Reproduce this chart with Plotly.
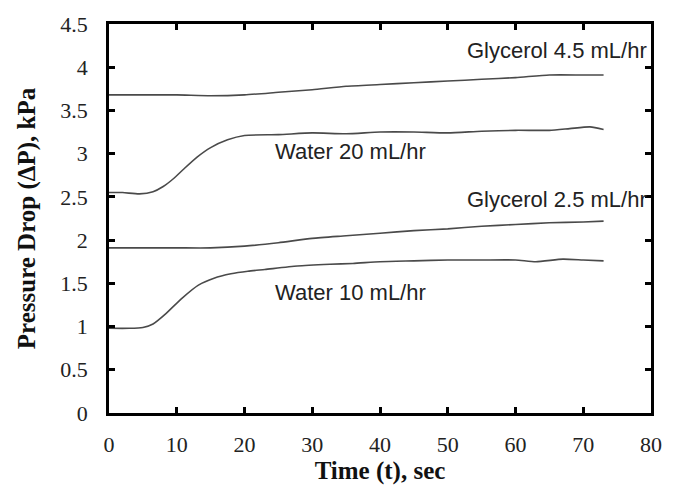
import plotly.graph_objects as go

# ---- data ----
t_gly45 = [0, 5, 10, 15, 20, 25, 30, 35, 40, 45, 50, 55, 60, 65, 70, 73]
p_gly45 = [3.68, 3.68, 3.68, 3.67, 3.68, 3.71, 3.74, 3.78, 3.80, 3.82, 3.84, 3.86, 3.88, 3.91, 3.91, 3.91]

t_w20 = [0, 2, 4.5, 6.5, 8, 9.5, 11, 13, 15, 17.5, 20, 25, 30, 35, 40, 45, 50, 55, 60, 65, 68, 71, 73]
p_w20 = [2.55, 2.55, 2.535, 2.56, 2.62, 2.71, 2.82, 2.96, 3.07, 3.16, 3.21, 3.22, 3.24, 3.23, 3.25, 3.25, 3.24, 3.26, 3.27, 3.27, 3.29, 3.31, 3.28]

t_gly25 = [0, 5, 10, 15, 20, 25, 30, 35, 40, 45, 50, 55, 60, 65, 70, 73]
p_gly25 = [1.91, 1.91, 1.91, 1.91, 1.93, 1.97, 2.02, 2.05, 2.08, 2.11, 2.13, 2.16, 2.18, 2.20, 2.21, 2.22]

t_w10 = [0, 3, 5, 6.5, 8.4, 10.8, 13.2, 15.5, 18, 20.5, 23, 27.8, 32.6, 36, 40, 45, 50, 55, 60, 63, 67, 70, 73]
p_w10 = [0.98, 0.98, 0.99, 1.03, 1.15, 1.33, 1.48, 1.56, 1.61, 1.64, 1.66, 1.70, 1.72, 1.73, 1.75, 1.76, 1.77, 1.77, 1.77, 1.75, 1.78, 1.77, 1.76]

labels = ["Glycerol 4.5 mL/hr", "Water 20 mL/hr", "Glycerol 2.5 mL/hr", "Water 10 mL/hr"]
label_x = [79.7, 24.2, 79.7, 24.2]
label_y = [4.19, 3.02, 2.47, 1.39]
label_anchor = ["right", "left", "right", "left"]

x_ticks = [0, 10, 20, 30, 40, 50, 60, 70, 80]
y_ticks = [0, 0.5, 1, 1.5, 2, 2.5, 3, 3.5, 4, 4.5]
y_ticktext = ["0", "0.5", "1", "1.5", "2", "2.5", "3", "3.5", "4", "4.5"]

line_color = "#4a4a4a"

fig = go.Figure()
for t, p in [(t_gly45, p_gly45), (t_w20, p_w20), (t_gly25, p_gly25), (t_w10, p_w10)]:
    fig.add_trace(go.Scatter(x=t, y=p, mode="lines", line=dict(color=line_color, width=1.6, shape="spline", smoothing=0.6),
                             showlegend=False, hoverinfo="skip"))

for txt, x, y, a in zip(labels, label_x, label_y, label_anchor):
    fig.add_annotation(x=x, y=y, text=txt, showarrow=False, xanchor=a, yanchor="middle",
                       font=dict(family="Liberation Sans, Arial, sans-serif", size=22, color="#222222"))

serif = "Liberation Serif, Times New Roman, serif"
axis_common = dict(showline=True, linecolor="black", linewidth=2.5, mirror="ticks", ticks="inside",
                   ticklen=6, tickwidth=2.5, tickcolor="black", showgrid=False, zeroline=False,
                   tickfont=dict(family=serif, size=22, color="#222222"))

fig.update_layout(
    width=674, height=491,
    margin=dict(l=109, r=15, t=20, b=78),
    paper_bgcolor="white", plot_bgcolor="white",
    xaxis=dict(range=[0, 80], tickvals=x_ticks, ticklabelstandoff=10,
               title=dict(text="Time (t), sec", font=dict(family=serif, size=25, color="#111111", weight="bold"), standoff=2),
               **axis_common),
    yaxis=dict(range=[0, 4.5], tickvals=y_ticks, ticktext=y_ticktext, ticklabelstandoff=14,
               title=dict(text="Pressure Drop (ΔP), kPa", font=dict(family=serif, size=25, color="#111111", weight="bold"), standoff=18),
               **axis_common),
)

fig.write_html("out.html")
